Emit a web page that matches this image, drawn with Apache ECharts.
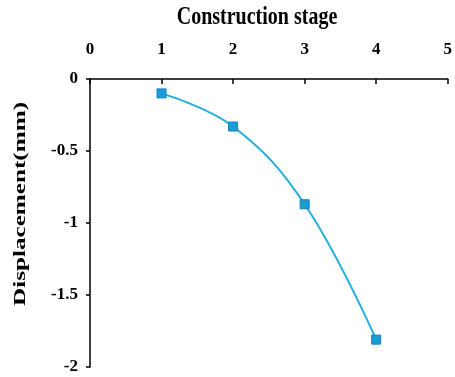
<!DOCTYPE html>
<html>
<head>
<meta charset="utf-8">
<script src="https://cdn.jsdelivr.net/npm/echarts@6/dist/echarts.min.js"></script>
<style>
  html, body { margin: 0; padding: 0; background: #fff; }
  #chart { width: 455px; height: 377px; }
</style>
</head>
<body>
<div id="chart"></div>
<script>
// Construction stage vs. measured displacement
const stages = [1, 2, 3, 4];
const displacement = [-0.1, -0.33, -0.87, -1.81];
const xTitle = 'Construction stage';
const yTitle = 'Displacement(mm)';

const serif = '"Liberation Serif", "Times New Roman", serif';
const lineColor = '#1fb0dc';
const markerColor = '#1a9cd8';

const chart = echarts.init(document.getElementById('chart'));
chart.setOption({
  animation: false,
  backgroundColor: '#fff',
  grid: { left: 90, right: 5, top: 79, bottom: 10, containLabel: false },
  xAxis: {
    type: 'value',
    position: 'top',
    min: 0, max: 5, interval: 1,
    axisLine: { show: true, onZero: false, lineStyle: { color: '#000', width: 1.5 } },
    axisTick: { show: true, inside: true, length: 5, lineStyle: { color: '#000', width: 1.5 } },
    splitLine: { show: false },
    axisLabel: { margin: 21, color: '#000', fontFamily: serif, fontWeight: 'bold', fontSize: 17 }
  },
  yAxis: {
    type: 'value',
    min: -2, max: 0, interval: 0.5,
    axisLine: { show: true, onZero: false, lineStyle: { color: '#000', width: 1.5 } },
    axisTick: { show: true, inside: false, length: 4, lineStyle: { color: '#000', width: 1.5 } },
    splitLine: { show: false },
    axisLabel: { margin: 12, color: '#000', fontFamily: serif, fontWeight: 'bold', fontSize: 17 }
  },
  series: [{
    type: 'line',
    data: stages.map((s, i) => [s, displacement[i]]),
    smooth: 0.4,
    symbol: 'rect',
    symbolSize: 9,
    lineStyle: { color: lineColor, width: 2 },
    itemStyle: { color: markerColor, borderColor: '#1480bd', borderWidth: 1 }
  }],
  graphic: [
    {
      type: 'text',
      x: 257, y: 17,
      scaleY: 1.3,
      style: {
        text: xTitle, fill: '#000',
        font: 'bold 20px ' + serif,
        textAlign: 'center', textVerticalAlign: 'middle'
      }
    },
    {
      type: 'text',
      x: 21, y: 204,
      rotation: Math.PI / 2,
      scaleX: 1.48,
      style: {
        text: yTitle, fill: '#000',
        font: 'bold 17px ' + serif,
        textAlign: 'center', textVerticalAlign: 'middle'
      }
    }
  ]
});
</script>
</body>
</html>
